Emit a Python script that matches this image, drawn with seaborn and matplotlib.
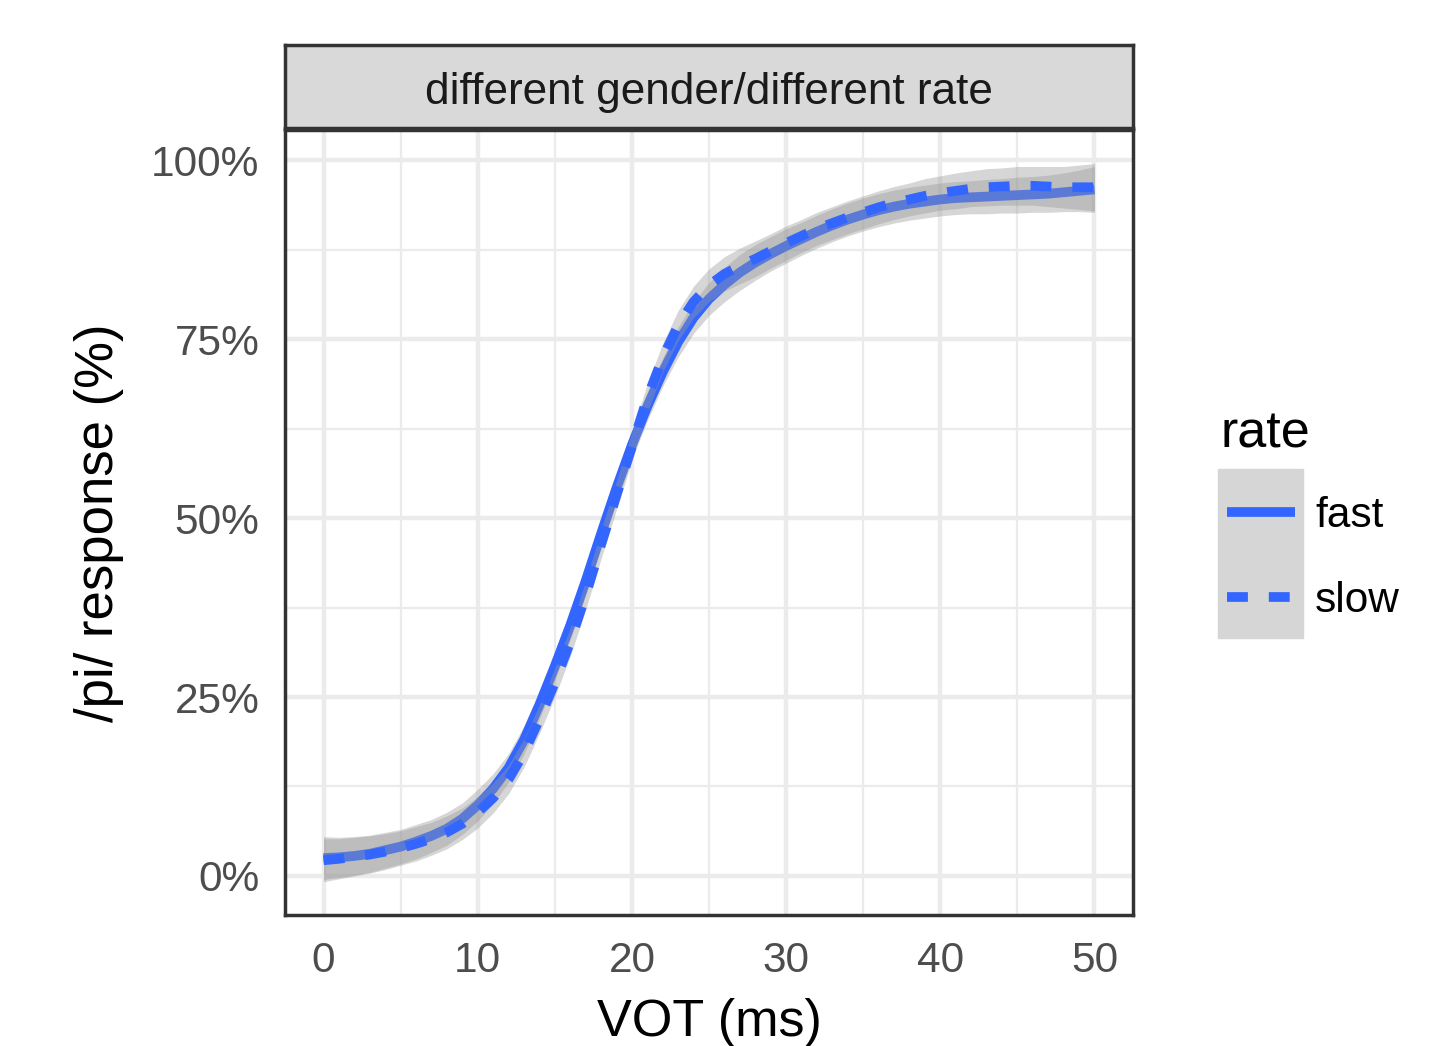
import matplotlib
matplotlib.use('Agg')
import matplotlib.pyplot as plt
from matplotlib.lines import Line2D
from matplotlib.patches import Rectangle
from matplotlib.ticker import MultipleLocator
import pandas as pd
import seaborn as sns

# values (percent /pi/ responses), one per ms of VOT
vot = list(range(0, 51))
fast_resp = [2.5, 2.6, 2.8, 3.1, 3.6, 4.1, 4.8, 5.6, 6.6, 8.0,
             9.9, 12.2, 15.1, 19.0, 23.9, 29.3, 35.0, 41.2, 47.8, 54.2,
             60.2, 65.6, 70.4, 74.6, 78.0, 80.6, 82.6, 84.3, 85.7, 86.9,
             88.0, 89.0, 90.0, 90.9, 91.7, 92.4, 93.0, 93.5, 93.9, 94.2,
             94.5, 94.7, 94.8, 94.9, 95.0, 95.1, 95.2, 95.3, 95.5, 95.7,
             95.9]
slow_resp = [2.2, 2.4, 2.7, 3.0, 3.4, 3.9, 4.5, 5.2, 6.1, 7.3,
             8.9, 10.9, 13.5, 17.2, 21.9, 27.0, 32.7, 39.2, 46.3, 53.2,
             60.0, 66.8, 72.4, 76.9, 80.2, 82.5, 84.1, 85.2, 86.2, 87.3,
             88.4, 89.4, 90.4, 91.2, 92.0, 92.7, 93.4, 94.0, 94.5, 95.0,
             95.4, 95.7, 96.0, 96.2, 96.3, 96.4, 96.4, 96.3, 96.2, 96.2,
             96.2]
# half width of the smoothing band
fast_ci = [3.0, 2.8, 2.7, 2.6, 2.5, 2.4, 2.4, 2.3, 2.3, 2.2,
           2.2, 2.1, 2.0, 2.0, 2.0, 2.0, 2.0, 2.0, 2.0, 2.0,
           2.0, 2.0, 2.0, 2.1, 2.2, 2.3, 2.4, 2.5, 2.5, 2.4,
           2.4, 2.3, 2.3, 2.3, 2.3, 2.3, 2.3, 2.3, 2.3, 2.3,
           2.3, 2.3, 2.3, 2.4, 2.4, 2.5, 2.5, 2.6, 2.7, 2.9,
           3.2]
slow_ci = [3.0, 2.8, 2.7, 2.6, 2.5, 2.4, 2.4, 2.3, 2.3, 2.2,
           2.2, 2.1, 2.0, 2.0, 2.0, 2.0, 2.0, 2.0, 2.0, 2.0,
           2.0, 2.0, 2.0, 2.1, 2.2, 2.3, 2.4, 2.5, 2.5, 2.4,
           2.4, 2.3, 2.3, 2.3, 2.3, 2.3, 2.3, 2.3, 2.3, 2.4,
           2.4, 2.5, 2.5, 2.6, 2.6, 2.7, 2.7, 2.8, 2.9, 3.1,
           3.3]
rate_levels = ['fast', 'slow']
x_ticks = [0, 10, 20, 30, 40, 50]
y_ticks = [0, 25, 50, 75, 100]
y_tick_labels = ['0%', '25%', '50%', '75%', '100%']
panel_title = 'different gender/different rate'

sns.set_style('white')
plt.rcParams['font.family'] = ['Liberation Sans', 'DejaVu Sans']

n = len(vot)
df = pd.DataFrame({
    'VOT': vot + vot,
    'response': fast_resp + slow_resp,
    'ci': fast_ci + slow_ci,
    'rate': ['fast'] * n + ['slow'] * n,
})
df['lo'] = df['response'] - df['ci']
df['hi'] = df['response'] + df['ci']

W, H = 1430, 1046
fig = plt.figure(figsize=(W / 100, H / 100), dpi=100)
ax = fig.add_axes([285 / W, 131 / H, 848 / W, 785 / H])

blue = '#3366FF'
# ggplot draws ribbon then line, group after group
for i, r in enumerate(rate_levels):
    sub = df[df['rate'] == r]
    ax.fill_between(sub['VOT'], sub['lo'], sub['hi'], color='#999999',
                    alpha=0.4, lw=0, zorder=2 + 2 * i)
sns.lineplot(data=df, x='VOT', y='response', style='rate',
             dashes={'fast': '', 'slow': (2.15, 2.15)}, color=blue,
             linewidth=7, errorbar=None, legend=False, ax=ax)
for i, line in enumerate(ax.lines):
    line.set_zorder(3 + 2 * i)
    line.set_dash_capstyle('butt')
    line.set_solid_capstyle('butt')

ax.set_xlim(-2.5, 52.5)
ax.set_ylim(-5.45, 104.2)
ax.set_xticks(x_ticks)
ax.set_yticks(y_ticks)
ax.set_yticklabels(y_tick_labels)
ax.xaxis.set_minor_locator(MultipleLocator(5))
ax.yaxis.set_minor_locator(MultipleLocator(12.5))
ax.set_axisbelow(True)
ax.grid(which='major', color='#EBEBEB', lw=3.2)
ax.grid(which='minor', color='#EBEBEB', lw=1.6)
ax.tick_params(which='minor', length=0)
ax.tick_params(which='major', length=9.4, width=2.5, color='#333333',
               labelsize=30.5, labelcolor='#4D4D4D')
ax.tick_params(axis='x', pad=9.5)
ax.tick_params(axis='y', pad=9)
for s in ax.spines.values():
    s.set_color('#333333')
    s.set_linewidth(2.5)
    s.set_zorder(10)

ax.set_xlabel('VOT (ms)', fontsize=37.5, color='black')
ax.set_ylabel('/pi/ response (%)', fontsize=38, color='black')
ax.xaxis.set_label_coords(0.5, -0.1057)
ax.yaxis.set_label_coords(-0.19, 0.5)

# facet strip
strip = fig.add_axes([285 / W, (H - 128) / H, 848 / W, 83 / H])
strip.set_facecolor('#D9D9D9')
strip.set_xticks([])
strip.set_yticks([])
for s in strip.spines.values():
    s.set_color('#333333')
    s.set_linewidth(2.5)
strip.text(0.5, 0.43, panel_title, ha='center', va='center', fontsize=31.8,
           color='#1A1A1A', transform=strip.transAxes)

# legend with grey key background like ggplot
fig.patches.append(Rectangle((1218 / W, 1 - 638 / H), 85 / W, 169 / H,
                             transform=fig.transFigure, color='#D6D6D6',
                             zorder=-1))
fig.text(1220 / W, 1 - 447 / H, 'rate', fontsize=37.5, color='black',
         ha='left', va='baseline')
handles = [
    Line2D([], [], color=blue, lw=7, solid_capstyle='butt'),
    Line2D([], [], color=blue, lw=7, dashes=(2.15, 2.15), dash_capstyle='butt'),
]
leg = ax.legend(handles, rate_levels, loc='upper left',
                bbox_to_anchor=(1227 / W, 1 - 496 / H),
                bbox_transform=fig.transFigure, frameon=False, fontsize=30.5,
                handlelength=1.6, handletextpad=0.48, labelcolor='black',
                labelspacing=1.06, borderpad=0, borderaxespad=0)

fig.savefig('out.png', dpi=100)
